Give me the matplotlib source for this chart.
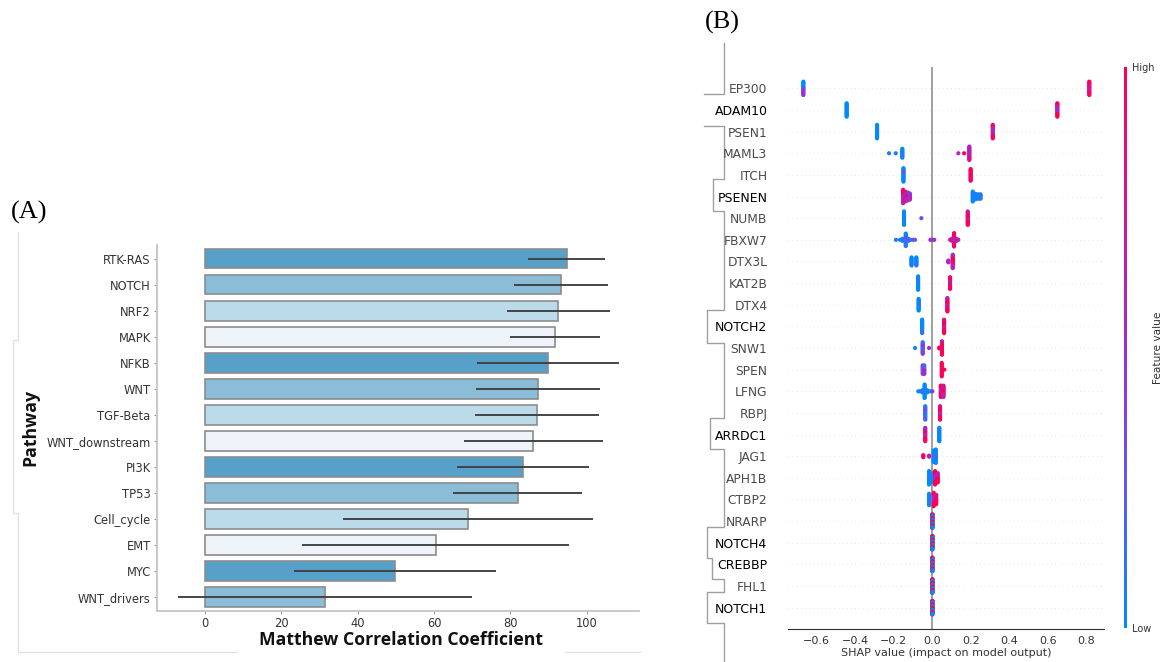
import numpy as np
import matplotlib
matplotlib.use("Agg")
import matplotlib.pyplot as plt
from matplotlib.colors import LinearSegmentedColormap, Normalize
from matplotlib.lines import Line2D
import matplotlib.colorbar as mcolorbar

W, H = 1168, 662

# ---------------- Panel A data ----------------
pathways = ["RTK-RAS", "NOTCH", "NRF2", "MAPK", "NFKB", "WNT", "TGF-Beta",
            "WNT_downstream", "PI3K", "TP53", "Cell_cycle", "EMT", "MYC", "WNT_drivers"]
mcc_mean = [94.8, 93.2, 92.6, 91.7, 89.9, 87.3, 86.9, 86.0, 83.3, 81.9, 68.9, 60.4, 49.8, 31.4]
mcc_low = [84.7, 80.9, 79.2, 79.8, 71.3, 71.0, 70.7, 67.8, 66.1, 65.0, 36.1, 25.5, 23.3, -7.1]
mcc_high = [104.9, 105.5, 106.0, 103.6, 108.4, 103.6, 103.1, 104.2, 100.5, 98.7, 101.6, 95.3, 76.3, 69.9]
bar_palette = ["#57a0c9", "#8bbdd9", "#bcdbea", "#eef4fa"]
mcc_ticks = [0, 20, 40, 60, 80, 100]

# ---------------- Panel B data ----------------
genes = ["EP300", "ADAM10", "PSEN1", "MAML3", "ITCH", "PSENEN", "NUMB", "FBXW7",
         "DTX3L", "KAT2B", "DTX4", "NOTCH2", "SNW1", "SPEN", "LFNG", "RBPJ", "ARRDC1",
         "JAG1", "APH1B", "CTBP2", "NRARP", "NOTCH4", "CREBBP", "FHL1", "NOTCH1"]
pasted_labels = ["ADAM10", "PSENEN", "NOTCH2", "ARRDC1", "NOTCH4", "CREBBP", "NOTCH1"]
shap_ticks = [-0.6, -0.4, -0.2, 0.0, 0.2, 0.4, 0.6, 0.8]

# clusters: (SHAP value, number of samples, feature values top->bottom)
EP300 = [(-0.670, 16, [0, 0, 0.4, 0.45]), (0.815, 16, [1, 0.85, 0.7, 0.95])]
ADAM10 = [(-0.445, 16, [0, 0, 0.05, 0]), (0.649, 16, [1, 0.6, 0.55, 1])]
PSEN1 = [(-0.287, 16, [0, 0.05, 0, 0]), (0.314, 16, [1, 0.6, 0.5, 1])]
MAML3 = [(-0.225, 1, [0.05]), (-0.19, 1, [0.1]), (-0.156, 11, [0, 0.1, 0.05]),
         (0.135, 1, [0.6]), (0.165, 1, [1]), (0.192, 16, [0.55, 0.7, 0.6, 0.85])]
ITCH = [(-0.150, 16, [0, 0.3, 0, 0]), (0.199, 14, [1, 0.85, 1, 0.9])]
PSENEN = [(-0.152, 16, [1, 0.9, 0.5, 0.6]), (-0.141, 12, [0.9, 0.5, 0.8]),
          (-0.129, 10, [0.6, 1, 0.5]), (-0.117, 8, [0.4, 0.6]),
          (0.210, 12, [0, 0.1, 0]), (0.224, 7, [0.05]), (0.238, 6, [0, 0.1]), (0.250, 6, [0.1])]
NUMB = [(-0.147, 16, [0, 0, 0.05, 0]), (-0.057, 1, [0.3]), (0.184, 16, [0.7, 1, 0.8, 1])]
FBXW7 = [(-0.189, 1, [0.1]), (-0.168, 1, [0.05]), (-0.155, 3, [0.05]), (-0.138, 13, [0, 0.3, 0.2, 0.1]),
         (-0.124, 3, [0.2]), (-0.113, 1, [0.1]), (-0.101, 1, [0.2]), (-0.090, 1, [0.3]),
         (-0.010, 1, [0.5]), (0.000, 1, [0.45]), (0.010, 1, [0.5]),
         (0.092, 1, [0.6]), (0.101, 3, [0.7]), (0.113, 14, [1, 0.7, 0.9]), (0.125, 3, [0.7]), (0.135, 1, [0.6])]
DTX3L = [(-0.108, 10, [0, 0.05]), (-0.083, 10, [0, 0.1]), (0.083, 3, [0.6]), (0.106, 16, [0.5, 1, 0.9, 0.6])]
KAT2B = [(-0.074, 16, [0, 0.1, 0, 0]), (0.092, 14, [1, 0.7, 1])]
DTX4 = [(-0.071, 14, [0, 0.05, 0]), (0.078, 16, [0.6, 1, 0.7, 1])]
NOTCH2 = [(-0.053, 16, [0, 0, 0.1]), (0.061, 16, [0.8, 1, 0.7, 1])]
SNW1 = [(-0.090, 1, [0.05]), (-0.050, 14, [0.1, 0.5, 0.2, 0.4]), (-0.017, 1, [0.5]),
        (0.036, 2, [1]), (0.050, 16, [0.7, 1, 0.9, 1])]
SPEN = [(-0.050, 8, [0.4, 0.3]), (-0.042, 8, [0.2, 0.5]), (0.049, 12, [1, 0.9, 1]), (0.062, 1, [1])]
LFNG = [(-0.073, 1, [0.05]), (-0.063, 1, [0]), (-0.052, 3, [0.1]), (-0.040, 14, [0, 0.1, 0]),
        (-0.026, 3, [0.05]), (-0.012, 1, [0]), (0.000, 1, [0.4]),
        (0.044, 12, [1, 0.6, 1]), (0.058, 12, [0.7, 1, 0.6])]
RBPJ = [(-0.037, 16, [0.1, 0.3, 0.1, 0.2]), (0.040, 16, [0.8, 1, 0.6, 1])]
ARRDC1 = [(-0.037, 16, [0.5, 0.9, 0.6, 1]), (0.036, 16, [0, 0.1, 0, 0])]
JAG1 = [(-0.047, 3, [1]), (-0.017, 2, [1, 0.6]), (0.007, 12, [0, 0.1, 0]), (0.018, 14, [0, 0.05, 0.1, 0])]
APH1B = [(-0.017, 14, [0, 0.1, 0]), (-0.005, 10, [0.05, 0]), (0.014, 14, [1, 0.6, 1]), (0.028, 10, [0.7, 1])]
CTBP2 = [(-0.017, 12, [0, 0.05]), (0.007, 14, [1, 0.6, 1]), (0.020, 10, [0.8, 1])]
NRARP = [(-0.0015, 16, [0, 1, 0, 1, 0, 1, 0, 1]), (0.0015, 16, [1, 0, 1, 0, 1, 0, 1, 0])]
NOTCH4 = [(-0.0015, 16, [0, 1, 0, 1, 0, 1, 0, 1]), (0.0015, 16, [1, 0, 1, 0, 1, 0, 1, 0])]
CREBBP = [(-0.0015, 16, [0, 1, 0, 1, 0, 1, 0, 1]), (0.0015, 16, [1, 0, 1, 0, 1, 0, 1, 0])]
FHL1 = [(-0.0015, 16, [0, 1, 0, 1, 0, 1, 0, 1]), (0.0015, 16, [1, 0, 1, 0, 1, 0, 1, 0])]
NOTCH1 = [(-0.0015, 16, [0, 1, 0, 1, 0, 1, 0, 1]), (0.0015, 16, [1, 0, 1, 0, 1, 0, 1, 0])]
gene_clusters = [EP300, ADAM10, PSEN1, MAML3, ITCH, PSENEN, NUMB, FBXW7, DTX3L, KAT2B, DTX4,
                 NOTCH2, SNW1, SPEN, LFNG, RBPJ, ARRDC1, JAG1, APH1B, CTBP2, NRARP, NOTCH4,
                 CREBBP, FHL1, NOTCH1]

# ---------------- Figure ----------------
fig = plt.figure(figsize=(W / 100, H / 100), dpi=100)
fig.patch.set_facecolor("white")


def fx(x):
    return x / W


def fy(y):
    return 1 - y / H


def box(l, t, r, b):
    return [fx(l), fy(b), (r - l) / W, (b - t) / H]


# decorative frame lines from the composite
deco = fig.add_axes([0, 0, 1, 1], zorder=0)
deco.set_xlim(0, W)
deco.set_ylim(H, 0)
deco.axis("off")
deco.plot([18, 18, 13, 13, 18, 18, 237], [232, 340, 340, 513, 513, 652, 652], color="#e2e2e2", lw=1)
deco.plot([565, 640], [652, 652], color="#e2e2e2", lw=1)
deco.plot([724, 724, 704], [43, 94.3, 94.3], color="#a0a0a0", lw=1)
bx = [704, 724, 724, 712.7, 712.7, 724, 724, 706.7, 706.7, 724, 724, 710, 710, 724, 724, 706.7,
      706.7, 711.7, 711.7, 724, 724, 707.3, 707.3, 724, 724]
by = [125.7, 125.7, 179.3, 179.3, 211, 211, 310, 310, 342.7, 342.7, 418.3, 418.3, 449, 449, 527.3,
      527.3, 558.3, 558.3, 579.3, 579.3, 591.7, 591.7, 623.3, 623.3, 662]
deco.plot(bx, by, color="#a0a0a0", lw=1)

# ---------------- Panel A ----------------
axA = fig.add_axes(box(156.7, 245, 639, 610.7), zorder=1)
ypos = np.arange(len(pathways))
bar_colors = [bar_palette[i % len(bar_palette)] for i in range(len(pathways))]
axA.barh(ypos, mcc_mean, height=0.76, color=bar_colors, edgecolor="#8c8c8c", linewidth=1.2, zorder=2)
axA.hlines(ypos, mcc_low, mcc_high, color="#3c3c3c", lw=1.4, alpha=0.95, zorder=3)
axA.set_xlim(-12.65, 113.7)
axA.set_ylim(13.52, -0.52)
axA.set_yticks(ypos)
axA.set_yticklabels(pathways, fontsize=8.3, color="#333333")
axA.set_xticks(mcc_ticks)
axA.set_xticklabels([str(t) for t in mcc_ticks], fontsize=8.3, color="#333333")
for s in ["top", "right"]:
    axA.spines[s].set_visible(False)
for s in ["left", "bottom"]:
    axA.spines[s].set_color("#c4c4c4")
    axA.spines[s].set_linewidth(1.3)
axA.tick_params(axis="both", length=2.5, width=0.8, color="#999999", pad=1.8)
axA.set_facecolor("none")

xlab = fig.text(fx(400.8), fy(640), "Matthew Correlation Coefficient", family="Open Sans",
                weight="bold", fontsize=14, ha="center", va="center", color="#111111")
ylab = fig.text(fx(30), fy(427), "Pathway", family="Open Sans", weight="bold", fontsize=14,
                rotation=90, ha="center", va="center", color="#111111")
fig.text(fx(29), fy(212), "(A)", family="Liberation Serif", fontsize=19, ha="center", va="center")
fig.text(fx(722), fy(22), "(B)", family="Liberation Serif", fontsize=19, ha="center", va="center")

# ---------------- Panel B ----------------
cmap = LinearSegmentedColormap.from_list(
    "red_blue", ["#008bfb", "#5f5af0", "#9e2dd0", "#d5139c", "#ff0052"])

axB = fig.add_axes(box(788.3, 66.7, 1104.3, 629.3), zorder=1)
axB.set_facecolor("none")
for row, clusters in enumerate(gene_clusters):
    axB.axhline(row, color="#cccccc", lw=0.5, dashes=(1, 5), zorder=-1)
    nmax = max(c[1] for c in clusters)
    step = 0.62 / (nmax - 1) if nmax > 1 else 0.0
    xs, ys, cs = [], [], []
    for v, n, fvs in clusters:
        for i in range(n):
            xs.append(v)
            ys.append(row + (i - (n - 1) / 2) * step)
            cs.append(fvs[min(int(i * len(fvs) / n), len(fvs) - 1)])
    axB.scatter(xs, ys, c=cs, cmap=cmap, vmin=0, vmax=1, s=9, linewidths=0, zorder=3)
axB.axvline(0, color="#999999", lw=1.3, zorder=1)
axB.set_xlim(-0.748, 0.893)
axB.set_ylim(25.0, -1.0)
axB.set_yticks(range(len(genes)))
axB.set_yticklabels(genes, fontsize=8.8, color="#4a4a4a")
for lbl in axB.get_yticklabels():
    if lbl.get_text() in pasted_labels:
        lbl.set_color("black")
        lbl.set_fontsize(9.0)
axB.tick_params(axis="y", length=0, pad=15)
axB.set_xticks(shap_ticks)
axB.set_xticklabels([f"{t:.1f}".replace("-", "\u2212") for t in shap_ticks], fontsize=8, color="#333333")
axB.tick_params(axis="x", length=0, pad=5)
for s in ["top", "right", "left"]:
    axB.spines[s].set_visible(False)
axB.spines["bottom"].set_color("#333333")
axB.spines["bottom"].set_linewidth(0.8)
fig.text(fx(946), fy(653), "SHAP value (impact on model output)", fontsize=8, color="#333333",
         ha="center", va="center")

cax = fig.add_axes(box(1124.3, 66.7, 1126.9, 628), zorder=1)
cb = mcolorbar.ColorbarBase(cax, cmap=cmap, norm=Normalize(0, 1), orientation="vertical")
cb.outline.set_visible(False)
cb.set_ticks([0, 1])
cb.set_ticklabels(["Low", "High"])
cax.tick_params(length=0, labelsize=7, pad=3.5, labelcolor="#333333")
fig.text(fx(1158), fy(347.5), "Feature value", fontsize=7.6, rotation=90, color="#333333",
         ha="center", va="center")

# fit bold axis titles to their measured extents
fig.canvas.draw()
r = fig.canvas.get_renderer()
wx = xlab.get_window_extent(r).width
xlab.set_fontsize(xlab.get_fontsize() * 285 / wx)
hy = ylab.get_window_extent(r).height
ylab.set_fontsize(ylab.get_fontsize() * 77 / hy)

fig.savefig("out.png", dpi=100, facecolor="white")
